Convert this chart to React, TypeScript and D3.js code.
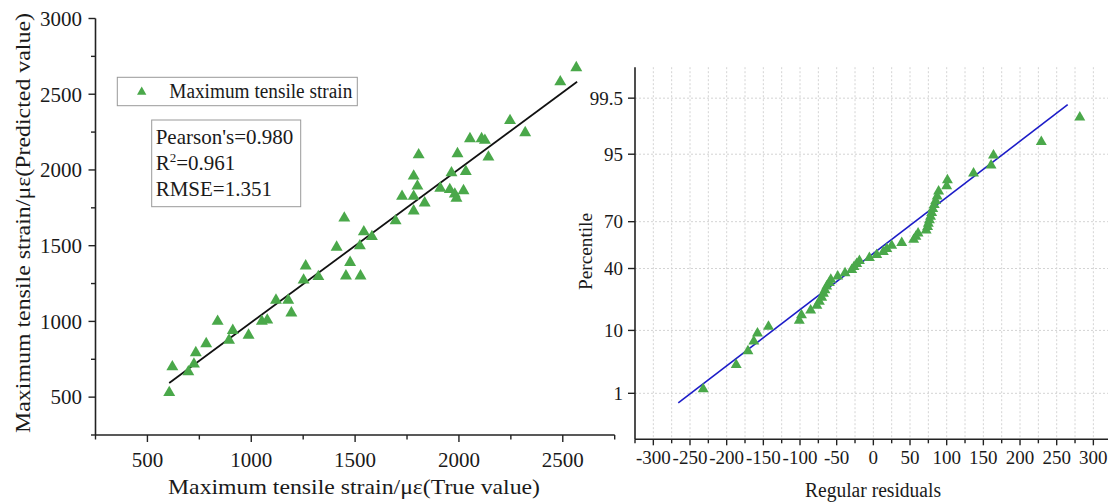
import React from "react";
import * as d3 from "d3";

// ---------- Left chart data (true vs predicted) ----------
const trueValues = [605, 620, 697, 724, 733, 783, 838, 893, 911, 987, 1051, 1077, 1119, 1178, 1193, 1252, 1262, 1323, 1411, 1448, 1456, 1476, 1523, 1526, 1542, 1581, 1695, 1726, 1782, 1782, 1782, 1800, 1806, 1835, 1910, 1956, 1964, 1980, 1988, 1993, 2022, 2033, 2053, 2109, 2125, 2142, 2246, 2319, 2488, 2565];
const predictedValues = [530, 700, 667, 718, 793, 853, 1000, 876, 940, 909, 1000, 1009, 1140, 1140, 1056, 1273, 1366, 1296, 1490, 1682, 1300, 1389, 1499, 1300, 1591, 1560, 1664, 1826, 1959, 1826, 1729, 1893, 2100, 1782, 1879, 1870, 1981, 1841, 1813, 2107, 1863, 1990, 2206, 2206, 2195, 2085, 2326, 2246, 2582, 2675];
const fitX = [605, 2569];
const fitY = [593, 2582];
const leftXTicks = [500, 1000, 1500, 2000, 2500];
const leftXMinor = [250, 750, 1250, 1750, 2250, 2750];
const leftYTicks = [500, 1000, 1500, 2000, 2500, 3000];
const leftYMinor = [250, 750, 1250, 1750, 2250, 2750];
const statsLines = ["Pearson's=0.980", "R2=0.961", "RMSE=1.351"];

// ---------- Right chart data (normal probability plot) ----------
const residuals = [-232, -187, -171, -163, -158, -143, -101, -98, -85.5, -77, -73.6, -70.4, -68, -66, -63.6, -60, -58, -48.6, -38.6, -29.5, -26.3, -22.7, -19, -5.4, 4.6, 13.6, 18.3, 25, 38.7, 55, 58, 61, 72, 74, 75, 76.5, 78, 79.5, 81, 83, 85, 87, 89, 100, 101, 136.6, 160.5, 163.8, 229, 281.5];
const percentiles = [1.2, 3.2, 5.2, 7.2, 9.2, 11.2, 13.2, 15.2, 17.2, 19.2, 21.1, 23.1, 25.1, 27.1, 29.1, 31.1, 33.1, 35.1, 37.1, 39.1, 41.0, 43.0, 45.0, 47.0, 49.0, 51.0, 53.0, 55.0, 56.9, 58.9, 60.9, 62.9, 64.9, 66.9, 68.9, 70.9, 72.9, 74.9, 76.9, 78.9, 80.8, 82.8, 84.8, 86.8, 88.8, 90.8, 92.8, 94.8, 96.8, 98.8];
const refLineResidual = [-266, 265];
const refLinePercentile = [0.65, 99.32];
const rightXTicks = [-300, -250, -200, -150, -100, -50, 0, 50, 100, 150, 200, 250, 300];
const rightXMinor = [-325, -275, -225, -175, -125, -75, -25, 25, 75, 125, 175, 225, 275, 325];
const rightYTicks = [1, 10, 40, 70, 95, 99.5];

// inverse standard normal CDF (Acklam)
function probit(p: number): number {
  const a = [-3.969683028665376e1, 2.209460984245205e2, -2.759285104469687e2, 1.38357751867269e2, -3.066479806614716e1, 2.506628277459239];
  const b = [-5.447609879822406e1, 1.615858368580409e2, -1.556989798598866e2, 6.680131188771972e1, -1.328068155288572e1];
  const c = [-7.784894002430293e-3, -3.223964580411365e-1, -2.400758277161838, -2.549732539343734, 4.374664141464968, 2.938163982698783];
  const d = [7.784695709041462e-3, 3.224671290700398e-1, 2.445134137142996, 3.754408661907416];
  const pl = 0.02425;
  if (p < pl) {
    const q = Math.sqrt(-2 * Math.log(p));
    return (((((c[0] * q + c[1]) * q + c[2]) * q + c[3]) * q + c[4]) * q + c[5]) / ((((d[0] * q + d[1]) * q + d[2]) * q + d[3]) * q + 1);
  }
  if (p > 1 - pl) {
    const q = Math.sqrt(-2 * Math.log(1 - p));
    return -(((((c[0] * q + c[1]) * q + c[2]) * q + c[3]) * q + c[4]) * q + c[5]) / ((((d[0] * q + d[1]) * q + d[2]) * q + d[3]) * q + 1);
  }
  const q = p - 0.5;
  const r = q * q;
  return ((((((a[0] * r + a[1]) * r + a[2]) * r + a[3]) * r + a[4]) * r + a[5]) * q) / (((((b[0] * r + b[1]) * r + b[2]) * r + b[3]) * r + b[4]) * r + 1);
}

const FONT = "'Liberation Serif', 'Times New Roman', serif";
const GREEN = "#4aa84a";
const AXIS = "#222";
const TXT = "#1a1a1a";

export default function App() {
  // left scales
  const lx = d3.scaleLinear().domain([250, 2750]).range([95.5, 614.7]);
  const ly = d3.scaleLinear().domain([250, 3000]).range([435, 18.5]);
  // right scales
  const rx = d3.scaleLinear().domain([-325, 325]).range([635, 1111.7]);
  const rz = d3.scaleLinear().domain([-3.09, 3.09]).range([439.3, 67.2]);
  const ry = (p: number) => rz(probit(p / 100));

  const triBig = d3.symbol().type(d3.symbolTriangle).size(62)() as string;
  const triSmall = d3.symbol().type(d3.symbolTriangle).size(52)() as string;
  const triLegend = d3.symbol().type(d3.symbolTriangle).size(38)() as string;

  const fitLine = d3.line<number>().x((_, i) => lx(fitX[i])).y((v) => ly(v))(fitY) as string;
  const refLine = d3.line<number>().x((_, i) => rx(refLineResidual[i])).y((p) => ry(p))(refLinePercentile) as string;

  const [lx0, lx1] = lx.range();
  const ly0 = ly(250), ly1 = ly(3000);
  const [rx0, rx1] = rx.range();
  const [rz0, rz1] = rz.range();

  return (
    <svg width={1108} height={504} style={{ position: "absolute", left: 0, top: 0, background: "#fff" }} fontFamily={FONT}>
      <rect width={1108} height={504} fill="#fff" />
      {/* ================= LEFT CHART ================= */}
      <line x1={lx0} x2={lx0} y1={ly1} y2={ly0} stroke={AXIS} strokeWidth={1.6} />
      <line x1={lx0} x2={lx1} y1={ly0} y2={ly0} stroke={AXIS} strokeWidth={1.6} />
      {leftXTicks.map((t) => (
        <g key={"lxt" + t}>
          <line x1={lx(t)} x2={lx(t)} y1={ly0} y2={ly0 + 7} stroke={AXIS} strokeWidth={1.4} />
          <text x={lx(t)} y={467} textAnchor="middle" fontSize={21} fill={TXT}>{t}</text>
        </g>
      ))}
      {leftXMinor.map((t) => (
        <line key={"lxm" + t} x1={lx(t)} x2={lx(t)} y1={ly0} y2={ly0 + 4.5} stroke={AXIS} strokeWidth={1.4} />
      ))}
      {leftYTicks.map((t) => (
        <g key={"lyt" + t}>
          <line x1={lx0 - 7} x2={lx0} y1={ly(t)} y2={ly(t)} stroke={AXIS} strokeWidth={1.4} />
          <text x={82} y={ly(t)} dy="0.35em" textAnchor="end" fontSize={21} fill={TXT}>{t}</text>
        </g>
      ))}
      {leftYMinor.map((t) => (
        <line key={"lym" + t} x1={lx0 - 4.5} x2={lx0} y1={ly(t)} y2={ly(t)} stroke={AXIS} strokeWidth={1.4} />
      ))}
      <text x={168} y={494} fontSize={22} fill={TXT} textLength={372} lengthAdjust="spacingAndGlyphs">Maximum tensile strain/με(True value)</text>
      <text transform="translate(30,433) rotate(-90)" fontSize={22} fill={TXT} textLength={420} lengthAdjust="spacingAndGlyphs">Maximum tensile strain/με(Predicted value)</text>

      <path d={fitLine} stroke="#111" strokeWidth={1.8} fill="none" />
      {trueValues.map((v, i) => (
        <path key={"lp" + i} d={triBig} transform={`translate(${lx(v)},${ly(predictedValues[i])})`} fill={GREEN} />
      ))}

      {/* legend */}
      <rect x={117.3} y={77.3} width={240} height={28.4} fill="#fff" stroke="#999" strokeWidth={1} />
      <path d={triLegend} transform="translate(141.7,92)" fill={GREEN} />
      <text x={169.3} y={98.3} fontSize={20} fill={TXT} textLength={183} lengthAdjust="spacingAndGlyphs">Maximum tensile strain</text>

      {/* stats box */}
      <rect x={151.7} y={120} width={149} height={86.7} fill="#fff" stroke="#999" strokeWidth={1} />
      <text x={155.7} y={144} fontSize={21} fill={TXT}>{statsLines[0]}</text>
      <text x={155.7} y={170} fontSize={21} fill={TXT}>
        R<tspan dy={-8} fontSize={13}>2</tspan><tspan dy={8}>{statsLines[1].slice(2)}</tspan>
      </text>
      <text x={155.7} y={196} fontSize={21} fill={TXT}>{statsLines[2]}</text>

      {/* ================= RIGHT CHART ================= */}
      {[...rightXTicks, ...rightXMinor].filter((t) => rx(t) > rx0 + 1).map((t) => (
        <line key={"rg" + t} x1={rx(t)} x2={rx(t)} y1={rz1} y2={rz0} stroke="#d4d4d4" strokeWidth={1} strokeDasharray="2,2" />
      ))}
      {rightYTicks.map((p) => (
        <line key={"rgy" + p} x1={rx0} x2={rx1} y1={ry(p)} y2={ry(p)} stroke="#d4d4d4" strokeWidth={1} strokeDasharray="2,2" />
      ))}
      <line x1={rx0} x2={rx0} y1={rz1} y2={rz0} stroke={AXIS} strokeWidth={1.6} />
      <line x1={rx0} x2={rx1} y1={rz0} y2={rz0} stroke={AXIS} strokeWidth={1.6} />
      {rightXTicks.map((t) => (
        <g key={"rxt" + t}>
          <line x1={rx(t)} x2={rx(t)} y1={rz0} y2={rz0 + 6} stroke={AXIS} strokeWidth={1.4} />
          <text x={rx(t)} y={463.5} textAnchor="middle" fontSize={19} fill={TXT}>{t}</text>
        </g>
      ))}
      {rightXMinor.map((t) => (
        <line key={"rxm" + t} x1={rx(t)} x2={rx(t)} y1={rz0} y2={rz0 + 4} stroke={AXIS} strokeWidth={1.4} />
      ))}
      {rightYTicks.map((p) => (
        <g key={"ryt" + p}>
          <line x1={rx0 - 7} x2={rx0} y1={ry(p)} y2={ry(p)} stroke={AXIS} strokeWidth={1.4} />
          <text x={623} y={ry(p)} dy="0.35em" textAnchor="end" fontSize={19} fill={TXT}>{p}</text>
        </g>
      ))}
      <text x={805} y={496.7} fontSize={20} fill={TXT} textLength={136} lengthAdjust="spacingAndGlyphs">Regular residuals</text>
      <text transform="translate(592,290) rotate(-90)" fontSize={19} fill={TXT} textLength={77} lengthAdjust="spacingAndGlyphs">Percentile</text>

      <path d={refLine} stroke="#1c1cc8" strokeWidth={1.6} fill="none" />
      {residuals.map((r, i) => (
        <path key={"rp" + i} d={triSmall} transform={`translate(${rx(r)},${ry(percentiles[i])})`} fill={GREEN} />
      ))}
    </svg>
  );
}
